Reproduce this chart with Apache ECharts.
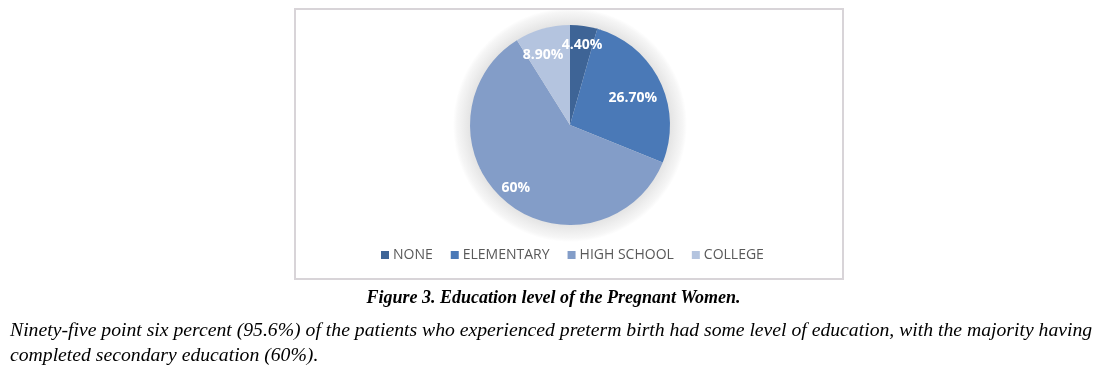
<!DOCTYPE html>
<html>
<head>
<meta charset="utf-8">
<script src="https://cdn.jsdelivr.net/npm/echarts@6/dist/echarts.min.js"></script>
<style>
html,body{margin:0;padding:0;background:#fff;}
#chart{width:1107px;height:371px;}
</style>
</head>
<body>
<div id="chart"></div>
<script>
// ---- data ----
const categories = ['NONE', 'ELEMENTARY', 'HIGH SCHOOL', 'COLLEGE'];
const values = [4.4, 26.7, 60, 8.9];
const valueLabels = ['4.40%', '26.70%', '60%', '8.90%'];
const captionTitle = 'Figure 3. Education level of the Pregnant Women.';
const captionLines = [
  'Ninety-five point six percent (95.6%) of the patients who experienced preterm birth had some level of education, with the majority having',
  'completed secondary education (60%).'
];

// ---- styles ----
const colors = ['#3E6496', '#4A79B7', '#839DC8', '#B4C4DF'];
const labelShift = [[1.64, 1.52], [1.32, 1.14], [1.59, 1.55], [1.85, 1.37]];
const CX = 570, CY = 125, R = 100, HALO = 117;

const chart = echarts.init(document.getElementById('chart'), null, {renderer: 'canvas'});
const option = {
  backgroundColor: '#ffffff',
  animation: false,
  color: colors,
  legend: {
    data: categories,
    left: 376,
    top: 243,
    icon: 'rect',
    itemWidth: 8,
    itemHeight: 8,
    itemGap: 18,
    textStyle: {color: '#595959', fontSize: 14, fontFamily: 'Open Sans', padding: [0, 0, 0, -1]}
  },
  graphic: [
    {type: 'circle', z: -5, shape: {cx: CX, cy: CY, r: HALO},
     style: {fill: {type: 'radial', x: 0.5, y: 0.5, r: 0.5, colorStops: [
       {offset: 0, color: '#e4e4e4'},
       {offset: R / HALO, color: '#e4e4e4'},
       {offset: (R + 7) / HALO, color: '#eeeeee'},
       {offset: (R + 13) / HALO, color: '#f6f6f6'},
       {offset: 1, color: '#ffffff'}
     ]}}},
    {type: 'rect', z: 10, shape: {x: 295, y: 9, width: 548, height: 270},
     style: {fill: 'none', stroke: '#d8d4d8', lineWidth: 2}},
    {type: 'text', left: 'center', top: 289,
     style: {text: captionTitle, font: 'italic bold 18px "Liberation Serif"', fill: '#000'}},
    {type: 'text', left: 10, top: 318,
     style: {text: captionLines.join('\n'), font: 'italic 19.7px "Liberation Serif"', lineHeight: 25, fill: '#000'}}
  ],
  series: [{
    type: 'pie',
    center: [CX, CY],
    radius: R,
    startAngle: 90,
    clockwise: true,
    data: categories.map((c, i) => ({name: c, value: values[i]})),
    itemStyle: {borderWidth: 0},
    label: {
      show: true,
      position: 'inside',
      formatter: p => valueLabels[p.dataIndex],
      color: '#fff',
      fontWeight: 'bold',
      fontSize: 14,
      fontFamily: 'Open Sans'
    },
    labelLayout: function (p) {
      const r = p.labelRect;
      const lx = r.x + r.width / 2, ly = r.y + r.height / 2;
      const f = labelShift[p.dataIndex];
      return {x: CX + (lx - CX) * f[0], y: CY + (ly - CY) * f[1]};
    },
    emphasis: {disabled: true}
  }]
};
chart.setOption(option);
</script>
</body>
</html>
